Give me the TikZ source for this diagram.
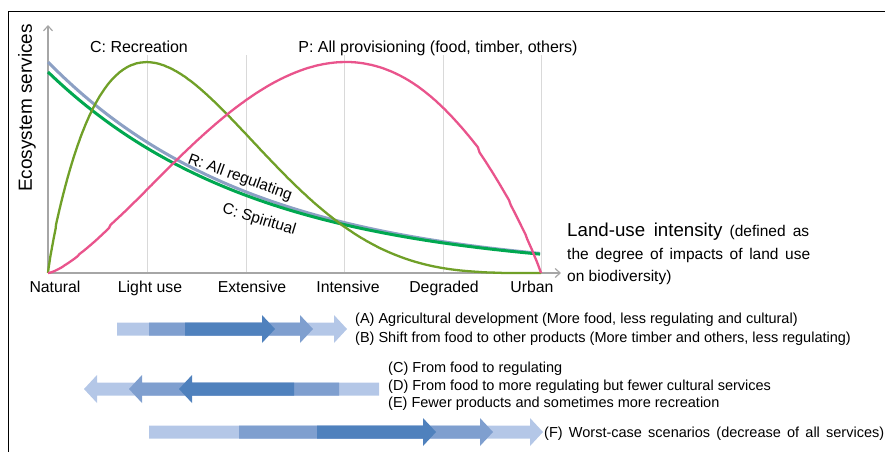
\documentclass[tikz,border=0pt]{standalone}
\usepackage{fontspec}
\setmainfont{Liberation Sans}
\usetikzlibrary{arrows.meta}
\definecolor{pinkc}{RGB}{233,84,140}
\definecolor{olivec}{RGB}{112,160,40}
\definecolor{grayc}{RGB}{140,160,196}
\definecolor{greenc}{RGB}{0,168,80}
\definecolor{axisc}{RGB}{166,166,166}
\definecolor{gridc}{RGB}{217,217,217}
\definecolor{lightb}{RGB}{180,199,231}
\definecolor{medb}{RGB}{127,159,207}
\definecolor{darkb}{RGB}{79,129,189}
\newcommand\fsz[1]{\fontsize{#1}{#1}\selectfont}
\newcommand\arrR[4]{\fill[#1] (#2,#4-6.5) -- (#3-13,#4-6.5) -- (#3-13,#4-14) -- (#3,#4) -- (#3-13,#4+14) -- (#3-13,#4+6.5) -- (#2,#4+6.5) -- cycle;}
\newcommand\arrL[4]{\fill[#1] (#2,#4-6.5) -- (#3+13,#4-6.5) -- (#3+13,#4-14) -- (#3,#4) -- (#3+13,#4+14) -- (#3+13,#4+6.5) -- (#2,#4+6.5) -- cycle;}
\tikzset{
  tick/.style={anchor=base,inner sep=0pt,font=\fsz{15.8}},
  lbl/.style={anchor=base west,inner sep=0pt,font=\fsz{14.5}},
  curvelbl/.style={inner sep=0pt,font=\fsz{15.5}},
  gridline/.style={draw=gridc,line width=0.8pt},
  axisline/.style={draw=axisc,line width=1.6pt,-{Straight Barb[length=5pt,width=9pt,line width=1.2pt]}},
}
\begin{document}
\begin{tikzpicture}[x=1pt,y=-1pt]
\useasboundingbox (0,0) rectangle (885,451);
% frame
\draw[line width=1.5pt,line cap=rect] (8.5,460) -- (8.5,11.5) -- (890,11.5);
% grid
\foreach \gx in {147,246,344,443,541} \draw[gridline] (\gx,55) -- (\gx,273);
% axes
\coordinate (O) at (48,273);
\coordinate (U) at (541,273);
\coordinate (ytop) at (48,25);
\coordinate (xend) at (561,273);
\draw[axisline] (O) -- (ytop);
\draw[axisline] (O) -- (xend);
% curves
\draw[grayc,line width=3pt,line join=round] plot[domain=0:1,samples=150] ({48+493*\x},{273-211*exp(-2.38*\x)});
\draw[greenc,line width=3pt,line join=round] plot[domain=0:1,samples=150] ({48+493*\x},{273-201*exp(-2.37*\x)});
\draw[olivec,line width=2.3pt,line join=round] (O) -- plot[domain=0.02:0.9995,samples=300] ({48+493*\x*\x},{273-2005.5*exp(1.8*ln(\x)+3.6*ln(1-\x*\x))}) -- (U);
\draw[pinkc,line width=2.3pt,line join=round] (O) -- plot[domain=0.0005:0.9995,samples=300] ({48+493*\x},{273-1056.8*exp(1.45*ln(\x)+0.95*ln(1-\x))}) -- (U);
% axis labels
\node[rotate=90,inner sep=0pt,font=\fsz{19}] (ylab) at (27,108) {Ecosystem services};
\node[tick] (t0) at (55,292) {Natural};
\node[tick] (t1) at (150,292) {Light use};
\node[tick] (t2) at (252,292) {Extensive};
\node[tick] (t3) at (348,292) {Intensive};
\node[tick] (t4) at (444,292) {Degraded};
\node[tick] (t5) at (532,292) {Urban};
\node[anchor=base west,inner sep=0pt,font=\fsz{15.5}] (xl1) at (567,236) {\makebox[242pt][s]{{\fsz{18.7}Land-use intensity} (defined as}};
\node[anchor=base west,inner sep=0pt,font=\fsz{15.5}] (xl2) at (567,259) {\makebox[243pt][s]{the degree of impacts of land use}};
\node[anchor=base west,inner sep=0pt,font=\fsz{15.5}] (xl3) at (567,281) {on biodiversity)};
% curve labels
\node[anchor=base,inner sep=0pt,font=\fsz{16}] (recr) at (139,52) {C: Recreation};
\node[anchor=base,inner sep=0pt,font=\fsz{16}] (prov) at (438,52) {P: All provisioning (food, timber, others)};
\node[curvelbl,rotate=-20] (regl) at (240,178) {R: All regulating};
\node[curvelbl,rotate=-17] (spir) at (259,220) {C: Spiritual};
% block arrows row 1
\arrR{lightb}{117}{347}{329}
\arrR{medb}{149}{313}{329}
\arrR{darkb}{185}{275}{329}
% row 2
\arrL{lightb}{379}{84}{389}
\arrL{medb}{339}{129}{389}
\arrL{darkb}{294}{179}{389}
% row 3
\arrR{lightb}{149}{543}{432}
\arrR{medb}{239}{493}{432}
\arrR{darkb}{317}{436}{432}
% scenario texts
\node[lbl] (sA) at (355,323) {(A) Agricultural development (More food, less regulating and cultural)};
\node[lbl] (sB) at (355,342) {(B) Shift from food to other products (More timber and others, less regulating)};
\node[lbl] (sC) at (388,372) {(C) From food to regulating};
\node[lbl] (sD) at (388,390) {(D) From food to more regulating but fewer cultural services};
\node[lbl] (sE) at (388,407) {(E) Fewer products and sometimes more recreation};
\node[lbl] (sF) at (544,437) {\makebox[340pt][s]{(F) Worst-case scenarios (decrease of all services)}};
\end{tikzpicture}
\end{document}
